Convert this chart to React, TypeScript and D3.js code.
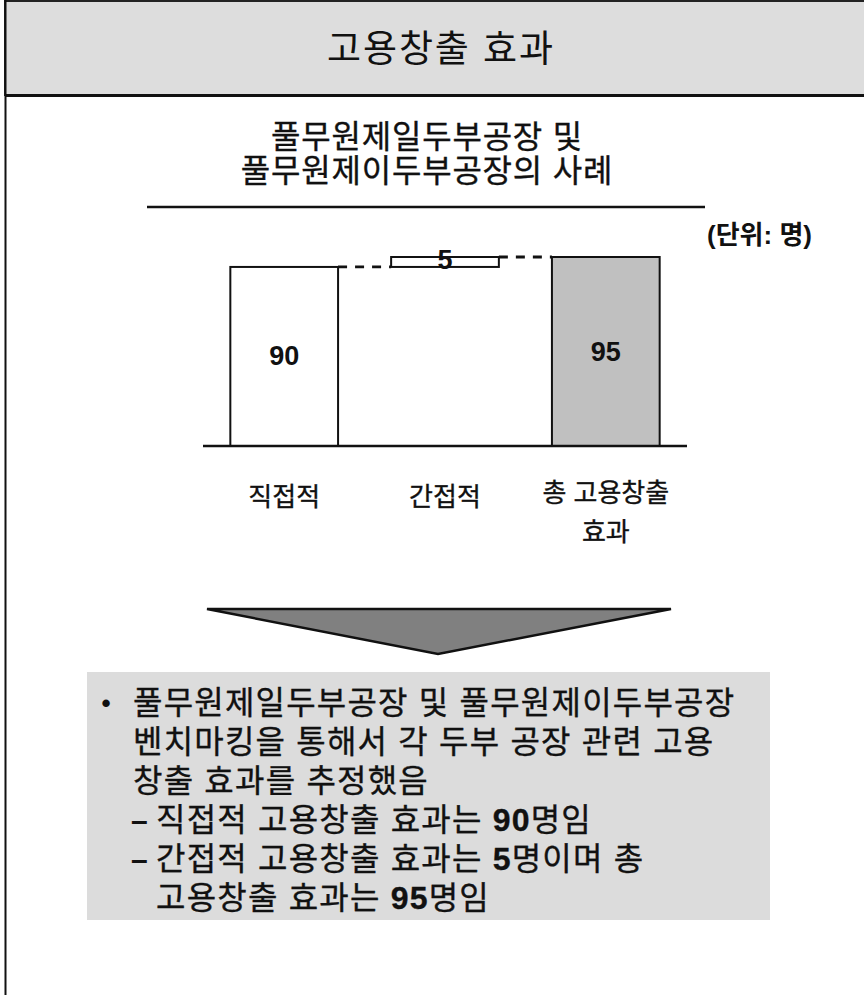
import React from "react";
import * as d3 from "d3";

// chart values (persons)
const categories = ["직접적", "간접적", "총 고용창출 효과"];
const categoryLines = [["직접적"], ["간접적"], ["총 고용창출", "효과"]];
const barStart = [0, 90, 0];
const barEnd = [90, 95, 95];
const valueLabels = ["90", "5", "95"];
const barFills = ["#ffffff", "#ffffff", "#c0c0c0"];

const headerTitle = "고용창출 효과";
const subtitleLines = ["풀무원제일두부공장 및", "풀무원제이두부공장의 사례"];
const unitLabel = "(단위: 명)";

// summary box: lead mark + segments with bold flag
const summaryLines: { lead: string; parts: [string, boolean][] }[] = [
  { lead: "•", parts: [["풀무원제일두부공장 및 풀무원제이두부공장", false]] },
  { lead: "", parts: [["벤치마킹을 통해서 각 두부 공장 관련 고용", false]] },
  { lead: "", parts: [["창출 효과를 추정했음", false]] },
  { lead: "–", parts: [["직접적 고용창출 효과는 ", false], ["90", true], ["명임", false]] },
  { lead: "–", parts: [["간접적 고용창출 효과는 ", false], ["5", true], ["명이며 총", false]] },
  { lead: " ", parts: [["고용창출 효과는 ", false], ["95", true], ["명임", false]] },
];

const W = 864;
const H = 995;
const FONT = "'Liberation Sans', 'Noto Sans CJK KR', sans-serif";
const INK = "#111";

const App = () => {
  const x = d3.scaleBand().domain(categories).range([203, 687]).paddingInner(0.33).paddingOuter(0.17);
  const y = d3.scaleLinear().domain([0, 95]).range([446, 257]);
  const bw = x.bandwidth();
  const heavy = { stroke: INK, strokeWidth: 0.35 };

  return (
    <svg width={W} height={H} viewBox={`0 0 ${W} ${H}`}
      style={{ position: "absolute", left: 0, top: 0, background: "#fff" }}
      fontFamily={FONT}>
      {/* header band */}
      <rect x={5} y={1} width={W} height={94} fill="#dddddd" stroke="#222" strokeWidth={2} />
      <line x1={5} x2={W} y1={95.5} y2={95.5} stroke={INK} strokeWidth={3} />
      <line x1={5.5} x2={5.5} y1={0} y2={H} stroke={INK} strokeWidth={2} />
      <text x={440} y={49} textAnchor="middle" dominantBaseline="central" fontSize={37}
        textLength={226} lengthAdjust="spacing" fill={INK}>{headerTitle}</text>

      {/* subtitle */}
      {subtitleLines.map((s, i) => (
        <text key={s} x={427} y={137 + i * 34} textAnchor="middle" dominantBaseline="central"
          fontSize={32} letterSpacing={0.8} fill={INK} {...heavy}>{s}</text>
      ))}
      <line x1={147} x2={705} y1={207} y2={207} stroke={INK} strokeWidth={2.5} />
      <text x={812} y={235} textAnchor="end" dominantBaseline="central" fontSize={26}
        fontWeight="bold" fill={INK}>{unitLabel}</text>

      {/* connectors */}
      {categories.slice(0, -1).map((c, i) => (
        <line key={c} x1={x(c)! + bw} x2={x(categories[i + 1])!}
          y1={y(barEnd[i])} y2={y(barEnd[i])}
          stroke={INK} strokeWidth={2.8} strokeDasharray="9,8" />
      ))}

      {/* bars */}
      {categories.map((c, i) => (
        <rect key={c} x={x(c)} y={y(barEnd[i])} width={bw} height={y(barStart[i]) - y(barEnd[i])}
          fill={barFills[i]} stroke={INK} strokeWidth={2} />
      ))}
      <line x1={203} x2={687} y1={446} y2={446} stroke={INK} strokeWidth={2.5} />

      {/* value labels */}
      {categories.map((c, i) => (
        <text key={c} x={x(c)! + bw / 2} y={(y(barStart[i]) + y(barEnd[i])) / 2 - (i === 1 ? 2 : 0)}
          textAnchor="middle" dominantBaseline="central" fontSize={27} fontWeight="bold"
          fill={INK}>{valueLabels[i]}</text>
      ))}

      {/* category labels */}
      {categories.map((c, i) => (
        <text key={c} x={x(c)! + bw / 2} y={categoryLines[i].length > 1 ? 493 : 497}
          textAnchor="middle" dominantBaseline="central" fontSize={26} fill={INK} {...heavy}>
          {categoryLines[i].map((l, j) => (
            <tspan key={l} x={x(c)! + bw / 2} dy={j === 0 ? 0 : 39}>{l}</tspan>
          ))}
        </text>
      ))}

      {/* down arrow */}
      <path d="M207,609L671,609L438,654Z" fill="#808080" stroke={INK} strokeWidth={2.5}
        strokeLinejoin="miter" />

      {/* summary box */}
      <rect x={87} y={672} width={683} height={248} fill="#dcdcdc" />
      {summaryLines.map((ln, i) => {
        const yy = 703 + i * 39;
        const indented = ln.lead === "–" || ln.lead === " ";
        return (
          <g key={i}>
            {ln.lead.trim() && (
              <text x={ln.lead === "•" ? 106 : 131} y={yy} textAnchor={ln.lead === "•" ? "middle" : "start"}
                dominantBaseline="central" fontSize={ln.lead === "•" ? 26 : 30} fontWeight="bold"
                fill={INK}>{ln.lead}</text>
            )}
            <text x={indented ? 156 : 133} y={yy} dominantBaseline="central" fontSize={32}
              letterSpacing={1.2} fill={INK} {...heavy}>
              {ln.parts.map(([t, b], j) => (
                <tspan key={j} fontWeight={b ? "bold" : "normal"}>{t}</tspan>
              ))}
            </text>
          </g>
        );
      })}
    </svg>
  );
};

export default App;
